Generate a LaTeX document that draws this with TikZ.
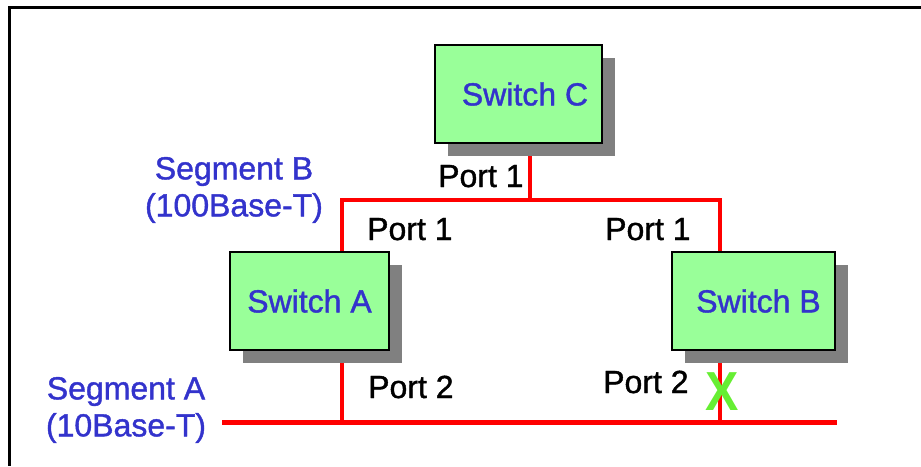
\documentclass[tikz,border=0pt]{standalone}
\usepackage{fontspec}
\setmainfont{Liberation Sans}
\newfontfamily\labelfont[FakeBold=1.2]{Liberation Sans}
\usetikzlibrary{shadows,backgrounds}
\definecolor{node_green}{RGB}{153,255,153}
\definecolor{node_shadow}{RGB}{128,128,128}
\definecolor{text_blue}{RGB}{51,51,204}
\definecolor{edge_red}{RGB}{255,0,0}
\definecolor{mark_green}{RGB}{102,238,51}

\begin{document}
\begin{tikzpicture}[x=1pt,y=-1pt,font=\labelfont\fontsize{32}{37}\selectfont]
    \tikzstyle{switch}=[draw=black, line width=1.3pt, fill=node_green, text=text_blue, minimum height=98pt, inner sep=0pt,
      drop shadow={shadow xshift=13pt, shadow yshift=-13pt, fill=node_shadow, opacity=1}]
    \tikzstyle{port}=[anchor=base west, inner sep=0pt, text=black]
    \tikzstyle{seg}=[align=center, inner sep=0pt, text=text_blue]
    \tikzstyle{wire}=[draw=edge_red, line width=4.5pt]

    \useasboundingbox (0,0) rectangle (921,466);
    \draw[line width=2.5pt] (921,7.7) -- (9.3,7.7) -- (9.3,466);

    \coordinate (bA) at (342,200);
    \coordinate (bC) at (530,200);
    \coordinate (bB) at (720,200);
    \coordinate (aL) at (222,422.5);
    \coordinate (aR) at (837,422.5);

    \node[switch,minimum width=167pt] (swC) at (518.5,94)  {\hspace*{13pt}Switch C};
    \node[switch,minimum width=159pt] (swA) at (309.5,301) {Switch A};
    \node[switch,minimum width=163pt] (swB) at (753.5,301) {\hspace*{10pt}Switch B};

    \begin{pgfonlayer}{background}
    \draw[wire] (swC.south -| bC) -- (bC);
    \draw[wire] (swA.north -| bA) -- (bA) -- (bB) -- (swB.north -| bB);
    \draw[wire] (aL) -- (aR);
    \draw[wire] (swA.south -| bA) -- (bA |- aL);
    \draw[wire] (swB.south -| bB) -- (bB |- aL);
    \end{pgfonlayer}

    \node[port] (pC1) at (438,187) {Port 1};
    \node[port] (pA1) at (367,240) {Port 1};
    \node[port] (pB1) at (605,240) {Port 1};
    \node[port] (pA2) at (368,398) {Port 2};
    \node[port] (pB2) at (603,393) {Port 2};

    \node[seg] (segB) at (234,190) {Segment B\\(100Base-T)};
    \node[seg] (segA) at (126,410) {Segment A\\(10Base-T)};

    \node[text=mark_green,font=\fontsize{50}{50}\selectfont\bfseries,inner sep=0pt,yscale=1.1] (cut) at (722,392) {X};
  \end{tikzpicture}
\end{document}
